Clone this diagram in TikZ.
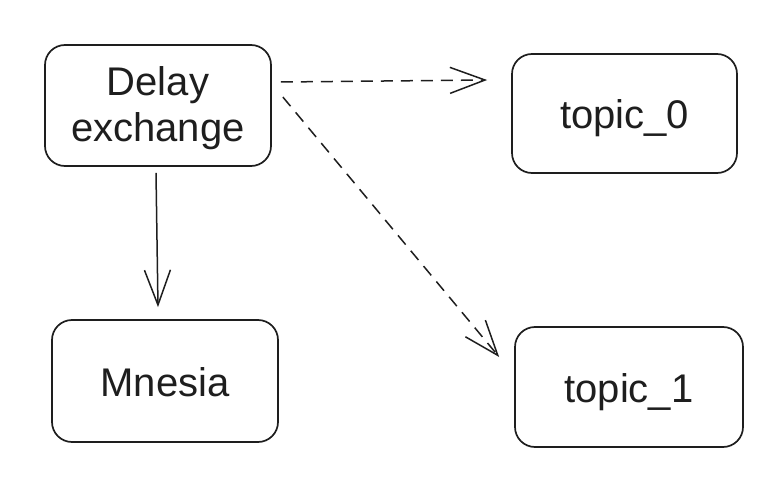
\documentclass[tikz,border=0pt]{standalone}
\usepackage{fontspec}
\setmainfont{Liberation Sans}
\usetikzlibrary{arrows.meta}
\definecolor{ink}{HTML}{1E1E1E}
\begin{document}
\begin{tikzpicture}[x=1pt,y=-1pt,
  box/.style={draw=ink, line width=1.7pt, rounded corners=20pt, inner sep=0pt,
    text=ink, font=\fontsize{40}{47}\selectfont, align=center,
    text height=30pt, text depth=0pt},
  conn/.style={draw=ink, line width=1.5pt,
    -{Straight Barb[length=35pt,width=26pt,line width=1.5pt]}},
  dashconn/.style={conn, dash pattern=on 12pt off 8pt}]
\useasboundingbox (0,0) rectangle (777,495);
\node[box, minimum width=226pt, minimum height=121pt, text height=73pt] (d) at (158,105.5)
  {Delay\\exchange};
\node[box, minimum width=225pt, minimum height=119pt] (t0) at (624.5,113.5) {topic\_0};
\node[box, minimum width=226pt, minimum height=122pt] (m) at (165,381) {Mnesia};
\node[box, minimum width=228pt, minimum height=120pt] (t1) at (629,387) {topic\_1};
\draw[dashconn] ([xshift=9pt,yshift=23.5pt]d.east) -- ([xshift=-24pt,yshift=33.5pt]t0.west);
\draw[dashconn] ([xshift=11pt,yshift=8.5pt]d.east) -- ([xshift=-15pt,yshift=30pt]t1.west);
\draw[conn] ([xshift=-2pt,yshift=-6pt]d.south) -- ([xshift=-7pt,yshift=12pt]m.north);
\end{tikzpicture}
\end{document}
